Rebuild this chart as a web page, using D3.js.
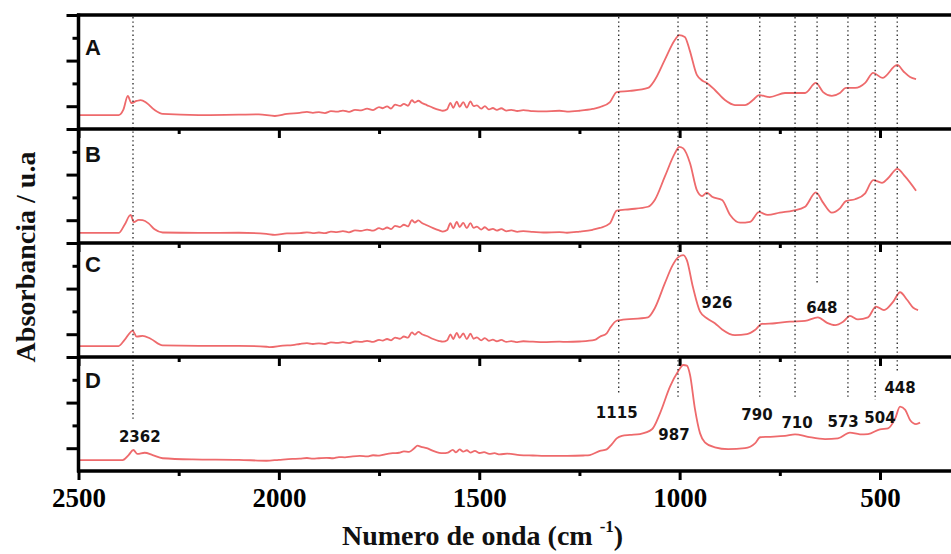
<!DOCTYPE html>
<html lang="es">
<head>
  <meta charset="UTF-8">
  <title>Espectros IR A-D</title>
  <script src="https://d3js.org/d3.v7.min.js"></script>
  <style>
    body { margin: 0; background: #fff; }
    .spectrum { fill: none; stroke: #ee6a6c; stroke-width: 1.8; stroke-linejoin: round; }
    .frame { stroke: #000; stroke-width: 3.5; }
    .axis path { display: none; }
    .axis line { stroke: #000; stroke-width: 3; }
    .axis text { font: bold 27px "Liberation Serif", "Times New Roman", serif; fill: #000; }
    .marker { stroke: #222; stroke-width: 1.3; stroke-dasharray: 1.4 3; }
    .peak-label { font: bold 15px "DejaVu Sans", sans-serif; fill: #111; }
    .panel-label { font: bold 22px "Liberation Sans", Arial, sans-serif; fill: #111; }
    .title { font: bold 28px "Liberation Serif", "Times New Roman", serif; fill: #111; }
  </style>
</head>
<body>
  <svg id="chart" width="951" height="554"></svg>

  <script>
    // panels and ticks
    const panels = ["A", "B", "C", "D"];
    const waveMajor = [2500, 2000, 1500, 1000, 500];
    const waveMinor = [2250, 1750, 1250, 750];
    const absMajor = [1, 3, 5];
    const absMinor = [2, 4];

    // spectra: [wavenumber cm-1, absorbance a.u.]
    const specA = [
      [2500,0.61],[2400,0.61],[2388,0.85],[2377,1.45],[2368,1.14],[2355,1.23],[2345,1.27],[2330,1.14],[2310,0.83],[2290,0.66],
      [2200,0.61],[2100,0.63],[2050,0.64],[2010,0.57],[1980,0.66],
      [1948,0.71],[1930,0.75],[1915,0.71],[1900,0.74],[1885,0.70],[1870,0.78],[1855,0.76],[1840,0.81],[1825,0.75],[1810,0.84],
      [1795,0.82],[1780,0.89],[1765,0.83],[1750,0.96],[1741,0.91],[1730,0.99],[1720,0.90],[1710,1.07],[1698,1.01],[1688,1.10],
      [1678,1.02],[1668,1.26],[1661,1.16],[1652,1.24],[1643,1.14],[1631,1.05],[1615,0.93],[1600,0.84],[1591,0.80],[1580,0.87],
      [1572,1.15],[1565,0.93],[1556,1.20],[1549,0.97],[1540,1.18],[1531,0.94],[1522,1.21],[1514,1.00],[1506,1.04],[1495,0.89],
      [1486,1.00],[1476,0.86],[1466,0.92],[1456,0.84],[1445,0.91],[1432,0.81],[1420,0.84],[1405,0.79],[1390,0.83],[1366,0.78],
      [1340,0.77],[1300,0.80],[1281,0.76],[1250,0.80],[1217,0.88],[1199,0.96],
      [1174,1.18],[1157,1.62],[1124,1.67],[1079,1.80],[1062,2.15],[1037,3.03],[1012,3.90],[1001,4.12],[987,4.04],[975,3.46],
      [957,2.37],[942,2.11],[932,2.02],[912,1.71],[887,1.27],[862,1.05],[837,1.05],[817,1.27],[802,1.49],[775,1.40],
      [737,1.58],[687,1.58],[660,2.02],[642,1.62],[620,1.45],[600,1.58],[585,1.80],[562,1.80],[537,2.02],[517,2.46],
      [494,2.24],[457,2.81],[440,2.50],[425,2.28],[410,2.19]
    ];
    const specB = [
      [2500,0.44],[2400,0.44],[2385,0.80],[2370,1.23],[2362,0.92],[2350,1.01],[2340,1.00],[2325,0.86],[2310,0.60],[2290,0.46],
      [2200,0.44],[2100,0.45],[2031,0.40],[2010,0.36],[1980,0.42],
      [1948,0.43],[1930,0.47],[1915,0.43],[1900,0.46],[1885,0.43],[1870,0.50],[1855,0.48],[1840,0.52],[1825,0.47],[1810,0.55],
      [1795,0.53],[1780,0.59],[1765,0.54],[1750,0.65],[1741,0.60],[1730,0.68],[1720,0.61],[1710,0.75],[1698,0.70],[1688,0.80],
      [1678,0.73],[1668,1.00],[1661,0.90],[1652,0.99],[1643,0.88],[1631,0.78],[1615,0.65],[1600,0.55],[1591,0.50],[1580,0.57],
      [1572,0.87],[1565,0.64],[1556,0.92],[1549,0.70],[1540,0.88],[1531,0.65],[1522,0.87],[1514,0.66],[1506,0.72],[1495,0.59],
      [1486,0.69],[1476,0.57],[1466,0.62],[1456,0.54],[1445,0.61],[1432,0.51],[1420,0.55],[1405,0.49],[1390,0.52],[1366,0.49],
      [1340,0.46],[1300,0.48],[1281,0.45],[1250,0.50],[1217,0.58],[1199,0.66],
      [1174,0.86],[1157,1.42],[1124,1.48],[1079,1.59],[1062,1.89],[1037,2.91],[1012,3.93],[1001,4.22],[991,4.15],[974,3.50],
      [957,2.32],[944,2.06],[932,2.21],[919,2.03],[894,1.89],[874,1.23],[849,0.89],[824,0.93],[802,1.35],[780,1.23],
      [750,1.33],[717,1.42],[687,1.59],[660,2.22],[642,1.77],[620,1.33],[600,1.52],[585,1.84],[562,1.92],[537,2.18],
      [517,2.76],[495,2.64],[480,2.84],[457,3.25],[437,2.91],[410,2.29]
    ];
    const specC = [
      [2500,0.48],[2400,0.48],[2385,0.75],[2365,1.15],[2355,0.89],[2340,0.93],[2320,0.80],[2290,0.51],[2200,0.49],[2100,0.49],
      [2031,0.45],[2023,0.43],[1990,0.50],[1966,0.52],
      [1948,0.57],[1930,0.61],[1915,0.57],[1900,0.60],[1885,0.57],[1870,0.64],[1855,0.62],[1840,0.65],[1825,0.61],[1810,0.68],
      [1795,0.66],[1780,0.71],[1765,0.66],[1750,0.75],[1741,0.72],[1730,0.79],[1720,0.73],[1710,0.85],[1698,0.80],[1688,0.90],
      [1678,0.85],[1668,1.08],[1661,0.98],[1652,1.10],[1643,1.00],[1631,0.92],[1615,0.79],[1600,0.70],[1591,0.67],[1580,0.73],
      [1572,0.99],[1565,0.79],[1556,1.06],[1549,0.84],[1540,1.03],[1531,0.79],[1522,1.02],[1514,0.80],[1506,0.86],[1495,0.73],
      [1486,0.83],[1476,0.71],[1466,0.76],[1456,0.69],[1445,0.75],[1432,0.66],[1420,0.70],[1405,0.65],[1390,0.69],[1366,0.67],
      [1340,0.65],[1300,0.67],[1281,0.66],[1250,0.68],[1212,0.75],[1199,0.89],
      [1182,1.04],[1174,1.26],[1157,1.59],[1147,1.62],[1079,1.74],[1062,2.14],[1037,3.23],[1017,4.04],[1004,4.37],[991,4.47],
      [982,4.25],[967,3.08],[949,1.99],[932,1.70],[912,1.48],[894,1.21],[862,0.96],[832,1.00],[812,1.18],[795,1.45],
      [762,1.48],[725,1.55],[687,1.58],[655,1.74],[632,1.50],[612,1.40],[592,1.55],[575,1.80],[555,1.65],[530,1.74],
      [510,2.21],[490,2.06],[467,2.43],[450,2.84],[432,2.50],[417,2.16],[405,2.06]
    ];
    const specD = [
      [2500,0.48],[2390,0.48],[2375,0.70],[2363,0.92],[2353,0.75],[2335,0.80],[2315,0.70],[2290,0.56],[2215,0.51],[2100,0.49],
      [2031,0.45],[2000,0.49],[1966,0.53],
      [1948,0.54],[1930,0.57],[1915,0.54],[1900,0.56],[1881,0.58],[1865,0.56],[1850,0.61],[1835,0.60],[1820,0.63],[1798,0.66],
      [1780,0.64],[1765,0.69],[1750,0.67],[1735,0.73],[1716,0.78],[1700,0.80],[1688,0.86],[1675,0.84],[1662,1.00],[1654,1.11],
      [1645,1.06],[1631,1.00],[1615,0.88],[1600,0.80],[1591,0.78],[1578,0.81],[1566,0.93],[1558,0.82],[1549,0.95],[1540,0.85],
      [1531,0.91],[1522,0.81],[1511,0.88],[1499,0.79],[1488,0.83],[1475,0.75],[1462,0.78],[1449,0.73],[1430,0.76],[1399,0.70],
      [1366,0.68],[1320,0.66],[1281,0.66],[1240,0.68],[1224,0.70],[1199,0.88],
      [1182,0.95],[1169,1.18],[1157,1.43],[1144,1.54],[1124,1.58],[1099,1.62],[1069,1.83],[1049,2.53],[1024,3.70],[1004,4.36],
      [991,4.65],[982,4.62],[974,4.21],[962,2.75],[949,1.65],[937,1.26],[912,1.04],[879,0.96],[837,1.00],[812,1.21],
      [799,1.48],[780,1.50],[737,1.54],[712,1.61],[680,1.50],[637,1.40],[605,1.43],[575,1.68],[550,1.61],[530,1.62],
      [500,1.83],[480,1.87],[462,2.31],[450,2.82],[437,2.68],[425,2.24],[410,2.06],[400,2.12]
    ];
    const spectra = [specA, specB, specC, specD];

    // dotted guide lines: wavenumber, lower end (stack units, 0 = bottom of D, 20 = top of A)
    const guideWave = [2364, 1152, 1004, 932, 800, 712, 657, 580, 512, 457];
    const guideEnd = [2.24, 3.42, 3.25, 7.94, 3.25, 3.25, 8.16, 3.20, 3.11, 4.30];

    // band labels: text, wavenumber of centre, baseline (stack units)
    const bandText = ["2362", "1115", "987", "926", "648", "790", "710", "573", "504", "448"];
    const bandWave = [2347, 1157, 1014, 907, 645, 807, 707, 592, 500, 450];
    const bandPos = [1.27, 2.32, 1.36, 7.15, 6.93, 2.24, 1.89, 1.93, 2.11, 3.42];

    const svg = d3.select("#chart");
    const top0 = 15, panelH = 114, axisX = 78.5, frameEnd = 960;
    const bottom = top0 + panelH * panels.length;

    const x = d3.scaleLinear().domain([2500, 500]).range([axisX, 880]);
    const yStack = d3.scaleLinear().domain([0, 20]).range([bottom, top0]);
    const letterOffset = [40, 33, 29, 31];

    // spectra and ticks for each panel
    panels.forEach((name, i) => {
      const y0 = top0 + i * panelH;
      const y = d3.scaleLinear().domain([0, 5]).range([y0 + panelH, y0]);
      const g = svg.append("g");

      g.append("path")
        .datum(spectra[i])
        .attr("class", "spectrum")
        .attr("d", d3.line().x(d => x(d[0])).y(d => y(d[1])).curve(d3.curveMonotoneX));

      g.append("g").attr("class", "axis")
        .attr("transform", `translate(${axisX},0)`)
        .call(d3.axisLeft(y).tickValues(absMajor).tickSize(12).tickFormat(""));
      g.append("g").attr("class", "axis")
        .attr("transform", `translate(${axisX},0)`)
        .call(d3.axisLeft(y).tickValues(absMinor).tickSize(6).tickFormat(""));

      g.append("g").attr("class", "axis")
        .attr("transform", `translate(0,${y0 + panelH})`)
        .call(d3.axisBottom(x).tickValues(waveMajor).tickSize(9).tickPadding(8)
          .tickFormat(i === panels.length - 1 ? d3.format("d") : ""));
      g.append("g").attr("class", "axis")
        .attr("transform", `translate(0,${y0 + panelH})`)
        .call(d3.axisBottom(x).tickValues(waveMinor).tickSize(5).tickFormat(""));

      g.append("text")
        .attr("class", "panel-label")
        .attr("x", 85)
        .attr("y", y0 + letterOffset[i])
        .text(name);
    });

    // dotted guide lines
    svg.append("g").selectAll("line")
      .data(guideWave)
      .join("line")
      .attr("class", "marker")
      .attr("x1", d => x(d)).attr("x2", d => x(d))
      .attr("y1", top0 + 2)
      .attr("y2", (d, i) => yStack(guideEnd[i]));

    // band labels
    svg.append("g").selectAll("text")
      .data(bandText)
      .join("text")
      .attr("class", "peak-label")
      .attr("text-anchor", "middle")
      .attr("x", (d, i) => x(bandWave[i]))
      .attr("y", (d, i) => yStack(bandPos[i]))
      .text(d => d);

    // frame: panel borders and left axis
    d3.range(panels.length + 1).forEach(k => {
      svg.append("line").attr("class", "frame")
        .attr("x1", axisX - 1.5).attr("x2", frameEnd)
        .attr("y1", top0 + k * panelH).attr("y2", top0 + k * panelH);
    });
    svg.append("line").attr("class", "frame")
      .attr("x1", axisX).attr("x2", axisX)
      .attr("y1", top0 - 1.5).attr("y2", bottom + 1.5);

    // axis titles
    const xt = svg.append("text").attr("class", "title").attr("x", 342).attr("y", 545);
    xt.append("tspan").text("Numero de onda (cm ");
    xt.append("tspan").attr("dy", -13).style("font-size", "17px").text("-1");
    xt.append("tspan").attr("dy", 13).text(")");

    svg.append("text")
      .attr("class", "title")
      .attr("transform", "translate(35,257) rotate(-90)")
      .attr("text-anchor", "middle")
      .text("Absorbancia / u.a");
  </script>
</body>
</html>
